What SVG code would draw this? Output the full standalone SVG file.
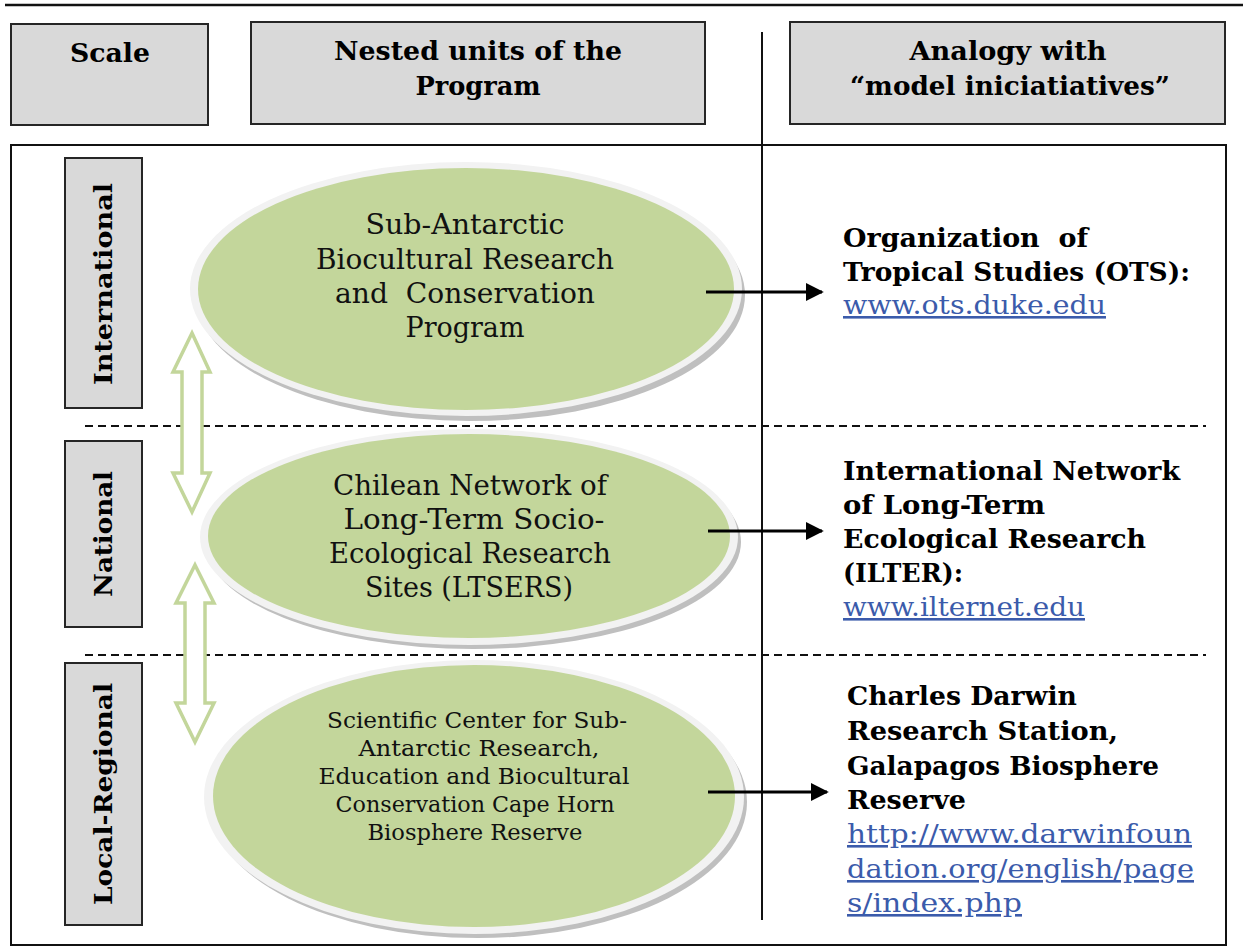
<svg xmlns="http://www.w3.org/2000/svg" width="1243" height="951" viewBox="0 0 1243 951">
<defs>
<style>
.hdr{fill:#d9d9d9;stroke:#262626;stroke-width:2}
.ht{font-family:"DejaVu Serif",serif;font-weight:bold;font-size:26px;fill:#000;text-anchor:middle}
.vt{font-family:"DejaVu Serif",serif;font-weight:bold;font-stretch:condensed;font-size:25px;fill:#000;text-anchor:middle}
.et{font-family:"DejaVu Serif",serif;font-size:27px;fill:#111;text-anchor:middle}
.es{font-family:"DejaVu Serif",serif;font-size:22.5px;fill:#111;text-anchor:middle}
.rt{font-family:"DejaVu Serif",serif;font-weight:bold;font-size:26px;fill:#000}
.lk{font-family:"DejaVu Serif",serif;font-size:26px;fill:#3b5bab;text-decoration:underline}
.sh{fill:#bfbfbf}
.rg{fill:#f2f2f2}
.gr{fill:#c3d69b}
.dash{stroke:#111;stroke-width:2;stroke-dasharray:8 5;fill:none}
.dbl{fill:#fff;stroke:#c3d69b;stroke-width:3.5;stroke-linejoin:miter}
.arr{stroke:#000;stroke-width:3;fill:none}
</style>
<marker id="ah" viewBox="0 0 10 10" refX="9" refY="5" markerWidth="6" markerHeight="6" markerUnits="strokeWidth" orient="auto">
<path d="M0,0 L10,5 L0,10 z" fill="#000"/>
</marker>
</defs>
<rect x="0" y="0" width="1243" height="951" fill="#fff"/>
<line x1="5" y1="5" x2="1243" y2="5" stroke="#111" stroke-width="2.5"/>
<rect x="11" y="145" width="1215" height="800" fill="none" stroke="#111" stroke-width="2"/>
<line x1="762" y1="32" x2="762" y2="920" stroke="#111" stroke-width="2"/>

<g id="hdr-scale"><rect class="hdr" x="11" y="24" width="197" height="101"/><text class="ht" x="110" y="62" textLength="80" lengthAdjust="spacingAndGlyphs">Scale</text></g>
<g id="hdr-nested"><rect class="hdr" x="251" y="22" width="454" height="102"/><text class="ht" x="478" y="60" textLength="288" lengthAdjust="spacingAndGlyphs">Nested units of the</text><text class="ht" x="478" y="95" textLength="125" lengthAdjust="spacingAndGlyphs">Program</text></g>
<g id="hdr-analogy"><rect class="hdr" x="790" y="22" width="435" height="102"/><text class="ht" x="1008" y="60" textLength="197" lengthAdjust="spacingAndGlyphs">Analogy with</text><text class="ht" x="1010" y="95" textLength="320" lengthAdjust="spacingAndGlyphs">“model iniciatiatives”</text></g>

<g id="scale-international"><rect class="hdr" x="65" y="158" width="77" height="250"/><text class="vt" transform="translate(112,284) rotate(-90)" textLength="202" lengthAdjust="spacingAndGlyphs">International</text></g>
<g id="scale-national"><rect class="hdr" x="65" y="441" width="77" height="186"/><text class="vt" transform="translate(112,534) rotate(-90)" textLength="126" lengthAdjust="spacingAndGlyphs">National</text></g>
<g id="scale-local"><rect class="hdr" x="65" y="663" width="77" height="262"/><text class="vt" transform="translate(112,794) rotate(-90)" textLength="222" lengthAdjust="spacingAndGlyphs">Local-Regional</text></g>

<g id="connectors">
<line class="dash" x1="85" y1="426" x2="1206" y2="426"/>
<line class="dash" x1="85" y1="655" x2="1206" y2="655"/>
</g>

<g id="unit-international">
<ellipse class="sh" cx="470" cy="295" rx="275" ry="126"/>
<ellipse class="rg" cx="466" cy="289" rx="276" ry="127"/>
<ellipse class="gr" cx="466" cy="289" rx="268" ry="121"/>
<text class="et" x="465" y="234" textLength="199" lengthAdjust="spacingAndGlyphs">Sub-Antarctic</text>
<text class="et" x="465" y="269" textLength="298" lengthAdjust="spacingAndGlyphs">Biocultural Research</text>
<text class="et" x="465" y="303" textLength="260" lengthAdjust="spacingAndGlyphs" xml:space="preserve">and  Conservation</text>
<text class="et" x="465" y="337" textLength="119" lengthAdjust="spacingAndGlyphs">Program</text>
</g>
<g id="unit-national">
<ellipse class="sh" cx="473" cy="542" rx="268" ry="107"/>
<ellipse class="rg" cx="469" cy="537" rx="269" ry="108"/>
<ellipse class="gr" cx="469" cy="536" rx="261" ry="102"/>
<text class="et" x="470" y="495" textLength="274" lengthAdjust="spacingAndGlyphs">Chilean Network of</text>
<text class="et" x="474" y="529" textLength="261" lengthAdjust="spacingAndGlyphs">Long-Term Socio-</text>
<text class="et" x="470" y="563" textLength="282" lengthAdjust="spacingAndGlyphs">Ecological Research</text>
<text class="et" x="469" y="597" textLength="208" lengthAdjust="spacingAndGlyphs">Sites (LTSERS)</text>
</g>
<g id="unit-local">
<ellipse class="sh" cx="478" cy="802" rx="269" ry="136"/>
<ellipse class="rg" cx="474" cy="797" rx="270" ry="137"/>
<ellipse class="gr" cx="474" cy="796" rx="261" ry="131"/>
<text class="es" x="477" y="728" textLength="300" lengthAdjust="spacingAndGlyphs">Scientific Center for Sub-</text>
<text class="es" x="479" y="756" textLength="241" lengthAdjust="spacingAndGlyphs">Antarctic Research,</text>
<text class="es" x="474" y="784" textLength="311" lengthAdjust="spacingAndGlyphs">Education and Biocultural</text>
<text class="es" x="475" y="812" textLength="279" lengthAdjust="spacingAndGlyphs">Conservation Cape Horn</text>
<text class="es" x="475" y="840" textLength="215" lengthAdjust="spacingAndGlyphs">Biosphere Reserve</text>
</g>

<g id="links">
<path class="dbl" d="M192,333 L210,372 L202,372 L202,473 L210,473 L192,512 L173,473 L182,473 L182,372 L173,372 Z"/>
<path class="dbl" d="M195,565 L214,603 L205,603 L205,703 L214,703 L195,742 L176,703 L185,703 L185,603 L176,603 Z"/>
<line class="arr" x1="706" y1="292" x2="822" y2="292" marker-end="url(#ah)"/>
<line class="arr" x1="708" y1="531" x2="822" y2="531" marker-end="url(#ah)"/>
<line class="arr" x1="708" y1="792" x2="827" y2="792" marker-end="url(#ah)"/>
</g>

<g id="model-ots">
<text class="rt" x="843" y="247" xml:space="preserve" textLength="245" lengthAdjust="spacingAndGlyphs">Organization  of</text>
<text class="rt" x="843" y="281" textLength="347" lengthAdjust="spacingAndGlyphs">Tropical Studies (OTS):</text>
<text class="lk" x="843" y="314" textLength="263" lengthAdjust="spacingAndGlyphs">www.ots.duke.edu</text>
</g>
<g id="model-ilter">
<text class="rt" x="843" y="480" textLength="337" lengthAdjust="spacingAndGlyphs">International Network</text>
<text class="rt" x="843" y="514" textLength="202" lengthAdjust="spacingAndGlyphs">of Long-Term</text>
<text class="rt" x="843" y="548" textLength="303" lengthAdjust="spacingAndGlyphs">Ecological Research</text>
<text class="rt" x="843" y="582" textLength="120" lengthAdjust="spacingAndGlyphs">(ILTER):</text>
<text class="lk" x="843" y="616" textLength="242" lengthAdjust="spacingAndGlyphs">www.ilternet.edu</text>
</g>
<g id="model-darwin">
<text class="rt" x="847" y="705" textLength="230" lengthAdjust="spacingAndGlyphs">Charles Darwin</text>
<text class="rt" x="847" y="740" textLength="271" lengthAdjust="spacingAndGlyphs">Research Station,</text>
<text class="rt" x="847" y="775" textLength="312" lengthAdjust="spacingAndGlyphs">Galapagos Biosphere</text>
<text class="rt" x="847" y="809" textLength="119" lengthAdjust="spacingAndGlyphs">Reserve</text>
<text class="lk" x="847" y="843" textLength="345" lengthAdjust="spacingAndGlyphs">http://www.darwinfoun</text>
<text class="lk" x="847" y="878" textLength="347" lengthAdjust="spacingAndGlyphs">dation.org/english/page</text>
<text class="lk" x="847" y="912" textLength="175" lengthAdjust="spacingAndGlyphs">s/index.php</text>
</g>
</svg>
